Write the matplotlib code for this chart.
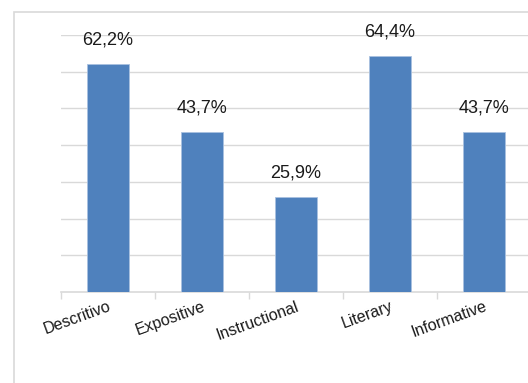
import matplotlib
matplotlib.use("Agg")
import numpy as np
from matplotlib import pyplot as plt
from matplotlib.patches import Rectangle

# data
categories = ["Descritivo", "Expositive", "Instructional", "Literary", "Informative"]
values = [62.2, 43.7, 25.9, 64.4, 43.7]
value_labels = ["62,2%", "43,7%", "25,9%", "64,4%", "43,7%"]

plt.rcParams['font.family'] = ['Liberation Sans', 'DejaVu Sans']

fig = plt.figure(figsize=(5.28, 3.83), dpi=100)

# outer chart frame (cropped on the right/bottom)
fig.patches.append(Rectangle((14 / 528, -0.1), 1.2, 1 - 12 / 383 + 0.1,
                             transform=fig.transFigure, fill=False,
                             edgecolor='#d9d9d9', linewidth=1.2))

ax = fig.add_axes([61 / 528, 91 / 383, 470 / 528, 257 / 383])

x = np.arange(len(categories))
ax.bar(x, values, width=0.45, color='#4f81bd', edgecolor='#a9c1e0',
       linewidth=0.6, zorder=3)

for xi, v, lab in zip(x, values, value_labels):
    ax.annotate(lab, (xi, v), xytext=(0, 11), textcoords='offset points',
                ha='center', va='bottom', fontsize=13, color='#1a1a1a')

ax.set_xlim(-0.5, len(categories) - 0.5)
ax.set_ylim(0, 70)
ax.set_yticks(np.arange(10, 71, 10))
ax.yaxis.grid(True, color='#d9d9d9', linewidth=1)
ax.set_axisbelow(True)
ax.tick_params(axis='y', left=False, labelleft=False)

ax.set_xticks(x)
ax.set_xticklabels(categories, rotation=20, ha='right', rotation_mode='anchor',
                   fontsize=11.5, color='#1a1a1a')
ax.tick_params(axis='x', which='major', length=0, pad=5)
ax.set_xticks(np.arange(-0.5, len(categories), 1), minor=True)
ax.tick_params(axis='x', which='minor', length=5, color='#d9d9d9', width=1)

for s in ['left', 'right', 'top']:
    ax.spines[s].set_visible(False)
ax.spines['bottom'].set_color('#d9d9d9')
ax.spines['bottom'].set_linewidth(1.2)

fig.savefig("out.png", dpi=100)
